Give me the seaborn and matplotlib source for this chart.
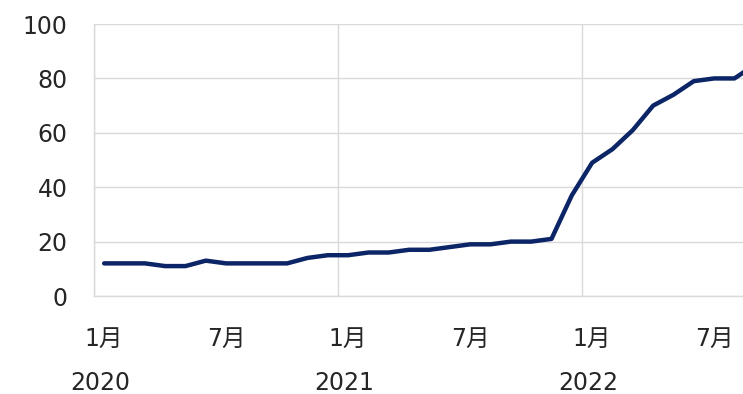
import pandas as pd
import seaborn as sns
import matplotlib.pyplot as plt
import matplotlib.transforms as mtransforms

# monthly index values, Jan 2020 - Sep 2022 (last point runs off the right edge)
months = pd.period_range("2020-01", "2022-09", freq="M")
values = [12, 12, 12, 11, 11, 13, 12, 12, 12, 12, 14, 15,
          15, 16, 16, 17, 17, 18, 19, 19, 20, 20, 21, 37,
          49, 54, 61, 70, 74, 79, 80, 80, 85]
tick_months = [1, 7]
y_ticks = [0, 20, 40, 60, 80, 100]

df = pd.DataFrame({"month": months, "value": values})
df["pos"] = range(len(df))

sns.set_style("white")
plt.rcParams["font.family"] = ["DejaVu Sans", "Noto Sans CJK JP"]

fig = plt.figure(figsize=(7.43, 3.94), dpi=100)
ax = fig.add_axes([0.1265, 0.2487, 0.8735, 0.6903])

sns.lineplot(data=df, x="pos", y="value", ax=ax, color="#0B2566",
             linewidth=3.2, solid_joinstyle="round", solid_capstyle="round")

ax.set_ylim(0, 100)
ax.set_xlim(-0.5, 31.42)
ax.set_yticks(y_ticks)
ax.grid(axis="y", color="#D9D9D9", linewidth=1)

# year boundaries as vertical grid lines
for p, m in zip(df["pos"], df["month"]):
    if m.month == 1:
        ax.axvline(p - 0.5, color="#D9D9D9", linewidth=1, zorder=0)

# month tick labels and year labels below
ticks = df[df["month"].dt.month.isin(tick_months)]
ax.set_xticks(ticks["pos"])
ax.set_xticklabels([f"{m.month}月" for m in ticks["month"]])
trans = mtransforms.blended_transform_factory(ax.transData, ax.transAxes)
for p, m in zip(ticks["pos"], ticks["month"]):
    if m.month == 1:
        ax.text(p - 0.2, -0.32, str(m.year), transform=trans, ha="center", va="center",
                fontsize=17, color="#262626")

ax.tick_params(axis="x", length=0, pad=22, labelsize=17, labelcolor="#262626")
ax.tick_params(axis="y", length=0, pad=19, labelsize=17, labelcolor="#262626")
ax.set_xlabel("")
ax.set_ylabel("")

for side in ["top", "right"]:
    ax.spines[side].set_visible(False)
for side in ["left", "bottom"]:
    ax.spines[side].set_color("#D9D9D9")
    ax.spines[side].set_linewidth(1)

fig.savefig("out.png", dpi=100)
